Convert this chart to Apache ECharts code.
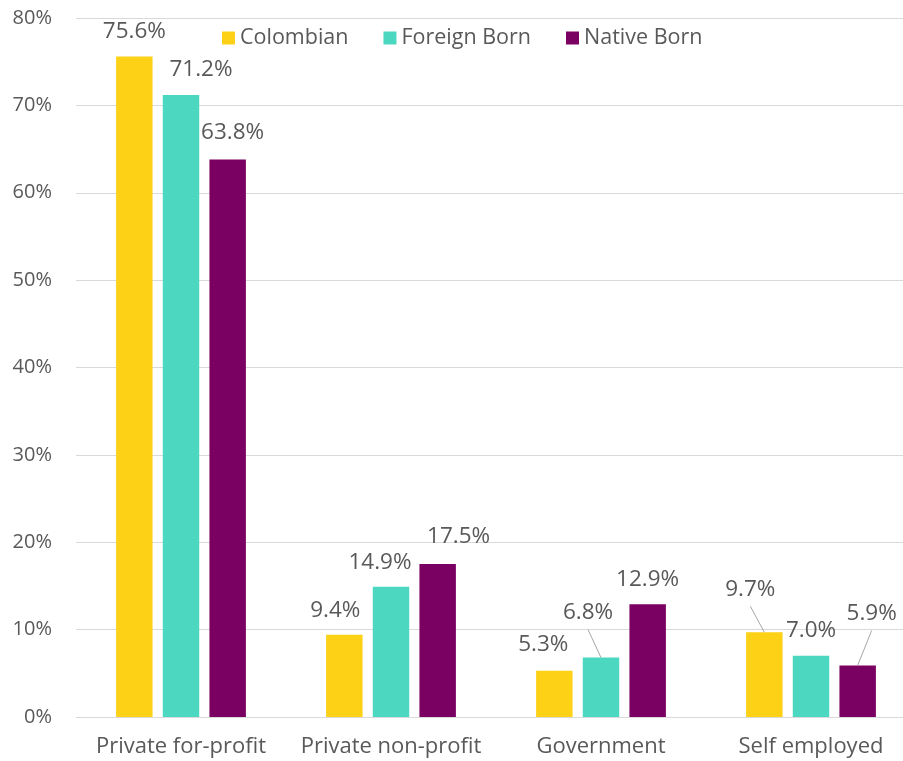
<!DOCTYPE html>
<html><head><meta charset="utf-8">
<script src="https://cdn.jsdelivr.net/npm/echarts@6/dist/echarts.min.js"></script>
<style>html,body{margin:0;padding:0;background:#fff;overflow:hidden}#c{width:916px;height:761px}</style>
</head><body><div id="c"></div>
<script>
const categories = ['Private for-profit', 'Private non-profit', 'Government', 'Self employed'];
const seriesNames = ['Colombian', 'Foreign Born', 'Native Born'];
const colombian = [75.6, 9.4, 5.3, 9.7];
const foreignBorn = [71.2, 14.9, 6.8, 7.0];
const nativeBorn = [63.8, 17.5, 12.9, 5.9];
const yTicks = [0, 10, 20, 30, 40, 50, 60, 70, 80];

const colors = ['#FCD116', '#4CD7C1', '#7A0062'];
// label offsets [series][category] as [dx, dy], and whether a leader line is drawn
const labelOffsets = [
  [[0, 0], [-9, 0], [-11, -2], [-14, -18]],
  [[20, -1], [-11, 0], [-13, -20], [0, -1]],
  [[5, -2], [21, -3], [0, 0], [14, -27]]
];
const leader = [
  [false, false, false, true],
  [false, false, true, false],
  [false, false, false, true]
];
const values = [colombian, foreignBorn, nativeBorn];
const FONT = '"Open Sans", sans-serif';

const chart = echarts.init(document.getElementById('c'));
chart.setOption({
  animation: false,
  textStyle: { fontFamily: FONT },
  legend: {
    left: 217, top: 22,
    itemWidth: 13, itemHeight: 13, itemGap: 35,
    icon: 'rect',
    textStyle: { fontSize: 21.5, color: '#595959', fontFamily: FONT },
    data: seriesNames
  },
  grid: { left: 76, right: 0, top: 18, bottom: 44, containLabel: false },
  xAxis: {
    type: 'category', data: categories,
    axisLine: { lineStyle: { color: '#D9D9D9' } },
    axisTick: { show: false },
    axisLabel: { interval: 0, fontSize: 22, color: '#595959', margin: 19, fontFamily: FONT }
  },
  yAxis: {
    type: 'value', min: yTicks[0], max: yTicks[yTicks.length - 1], interval: 10,
    axisLabel: { formatter: '{value}%', fontSize: 20, color: '#595959', margin: 24, fontFamily: FONT },
    splitLine: { lineStyle: { color: '#D9D9D9' } },
    axisLine: { show: false }, axisTick: { show: false }
  },
  series: values.map((vals, s) => ({
    type: 'bar', name: seriesNames[s],
    barGap: '28%', barCategoryGap: '38.2%',
    itemStyle: { color: colors[s] },
    data: vals,
    label: {
      show: true, position: 'top', distance: 13,
      formatter: p => p.value.toFixed(1) + '%',
      fontSize: 22.5, color: '#595959', fontFamily: FONT
    },
    labelLayout: (p) => {
      const off = labelOffsets[p.seriesIndex][p.dataIndex];
      return { dx: off[0], dy: off[1] };
    }
  }))
});

// leader lines from moved labels to the top centre of their bars (bar layout from ECharts)
const lines = [];
values.forEach((vals, s) => {
  const data = chart.getModel().getSeriesByIndex(s).getData();
  vals.forEach((v, i) => {
    if (!leader[s][i]) return;
    const l = data.getItemLayout(i);
    const cx = l.x + l.width / 2;
    const top = Math.min(l.y, l.y + l.height);
    const off = labelOffsets[s][i];
    lines.push({
      type: 'line', silent: true, z: 10,
      shape: { x1: cx + off[0], y1: top - 8 + off[1], x2: cx, y2: top },
      style: { stroke: '#A6A6A6', lineWidth: 1 }
    });
  });
});
chart.setOption({ graphic: lines });
</script></body></html>
